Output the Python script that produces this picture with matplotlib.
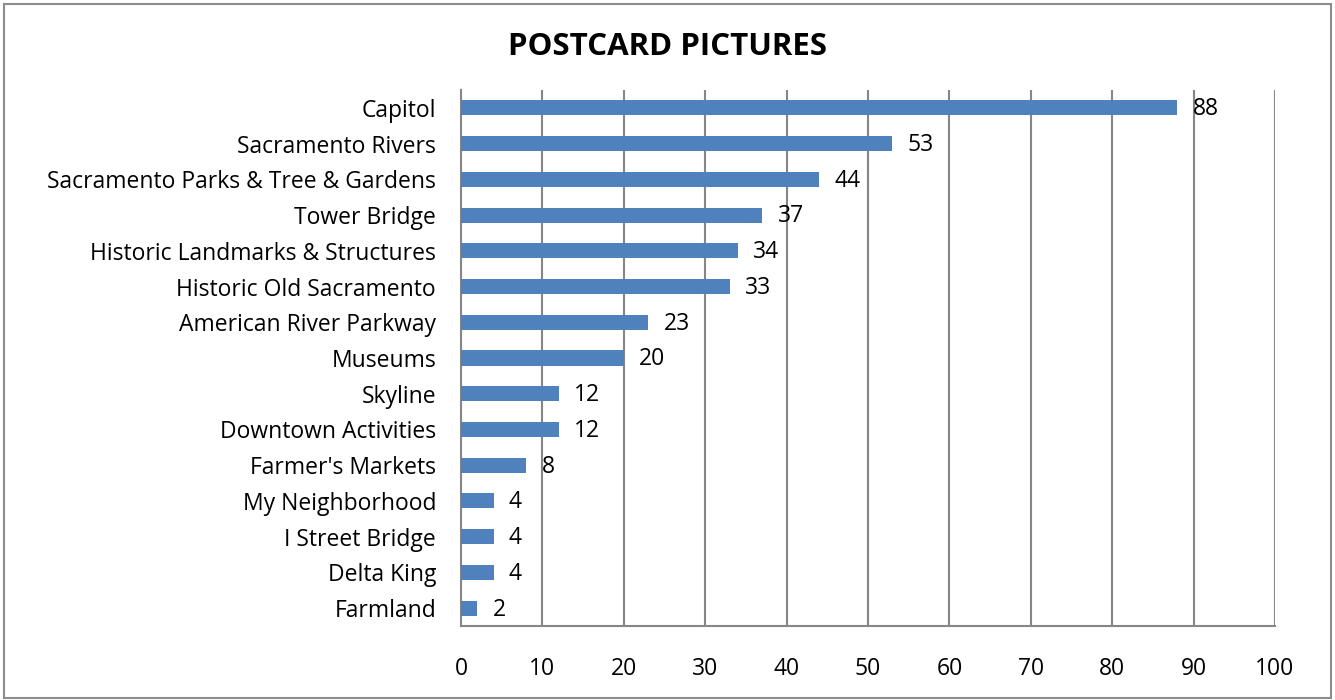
import matplotlib.pyplot as plt
import numpy as np
from matplotlib.patches import Rectangle

plt.rcParams["font.family"] = ["Open Sans", "DejaVu Sans"]

categories = [
    "Capitol",
    "Sacramento Rivers",
    "Sacramento Parks & Tree & Gardens",
    "Tower Bridge",
    "Historic Landmarks & Structures",
    "Historic Old Sacramento",
    "American River Parkway",
    "Museums",
    "Skyline",
    "Downtown Activities",
    "Farmer's Markets",
    "My Neighborhood",
    "I Street Bridge",
    "Delta King",
    "Farmland",
]
counts = [88, 53, 44, 37, 34, 33, 23, 20, 12, 12, 8, 4, 4, 4, 2]
xticks = list(range(0, 101, 10))

fig = plt.figure(figsize=(13.35, 7), dpi=100)
ax = fig.add_axes((461 / 1335, 1 - 626 / 700, (1275 - 461) / 1335, (626 - 90) / 700))

# frame around the whole chart, like the Excel chart area
fig.patches.append(Rectangle((0.003, 0.003), 0.994, 0.992, transform=fig.transFigure,
                             fill=False, edgecolor="#8c8c8c", linewidth=1.5))

y = np.arange(len(categories))
ax.barh(y, counts, height=0.42, color="#4F81BD", zorder=3)

for yi, v in zip(y, counts):
    ax.annotate(str(v), (v, yi), xytext=(11, -1), textcoords="offset points",
                ha="left", va="center", fontsize=16.5, zorder=4)

ax.set_xlim(0, 100)
ax.set_ylim(len(categories) - 0.5, -0.5)
ax.set_xticks(xticks)
ax.set_yticks(y)
ax.set_yticklabels(categories)
ax.tick_params(axis="both", length=0, labelsize=16.5)
ax.tick_params(axis="x", pad=22)
ax.tick_params(axis="y", pad=18)

ax.grid(axis="x", color="#868686", linewidth=1.5, zorder=0)
for side in ["top", "right"]:
    ax.spines[side].set_visible(False)
ax.spines["left"].set_color("#868686")
ax.spines["bottom"].set_color("#868686")
ax.spines["left"].set_linewidth(1.5)
ax.spines["bottom"].set_linewidth(1.5)

fig.text(668 / 1335, 1 - 47 / 700, "POSTCARD PICTURES", ha="center", va="center",
         fontsize=22.5, fontweight="bold")

fig.savefig("out.png", dpi=100)
